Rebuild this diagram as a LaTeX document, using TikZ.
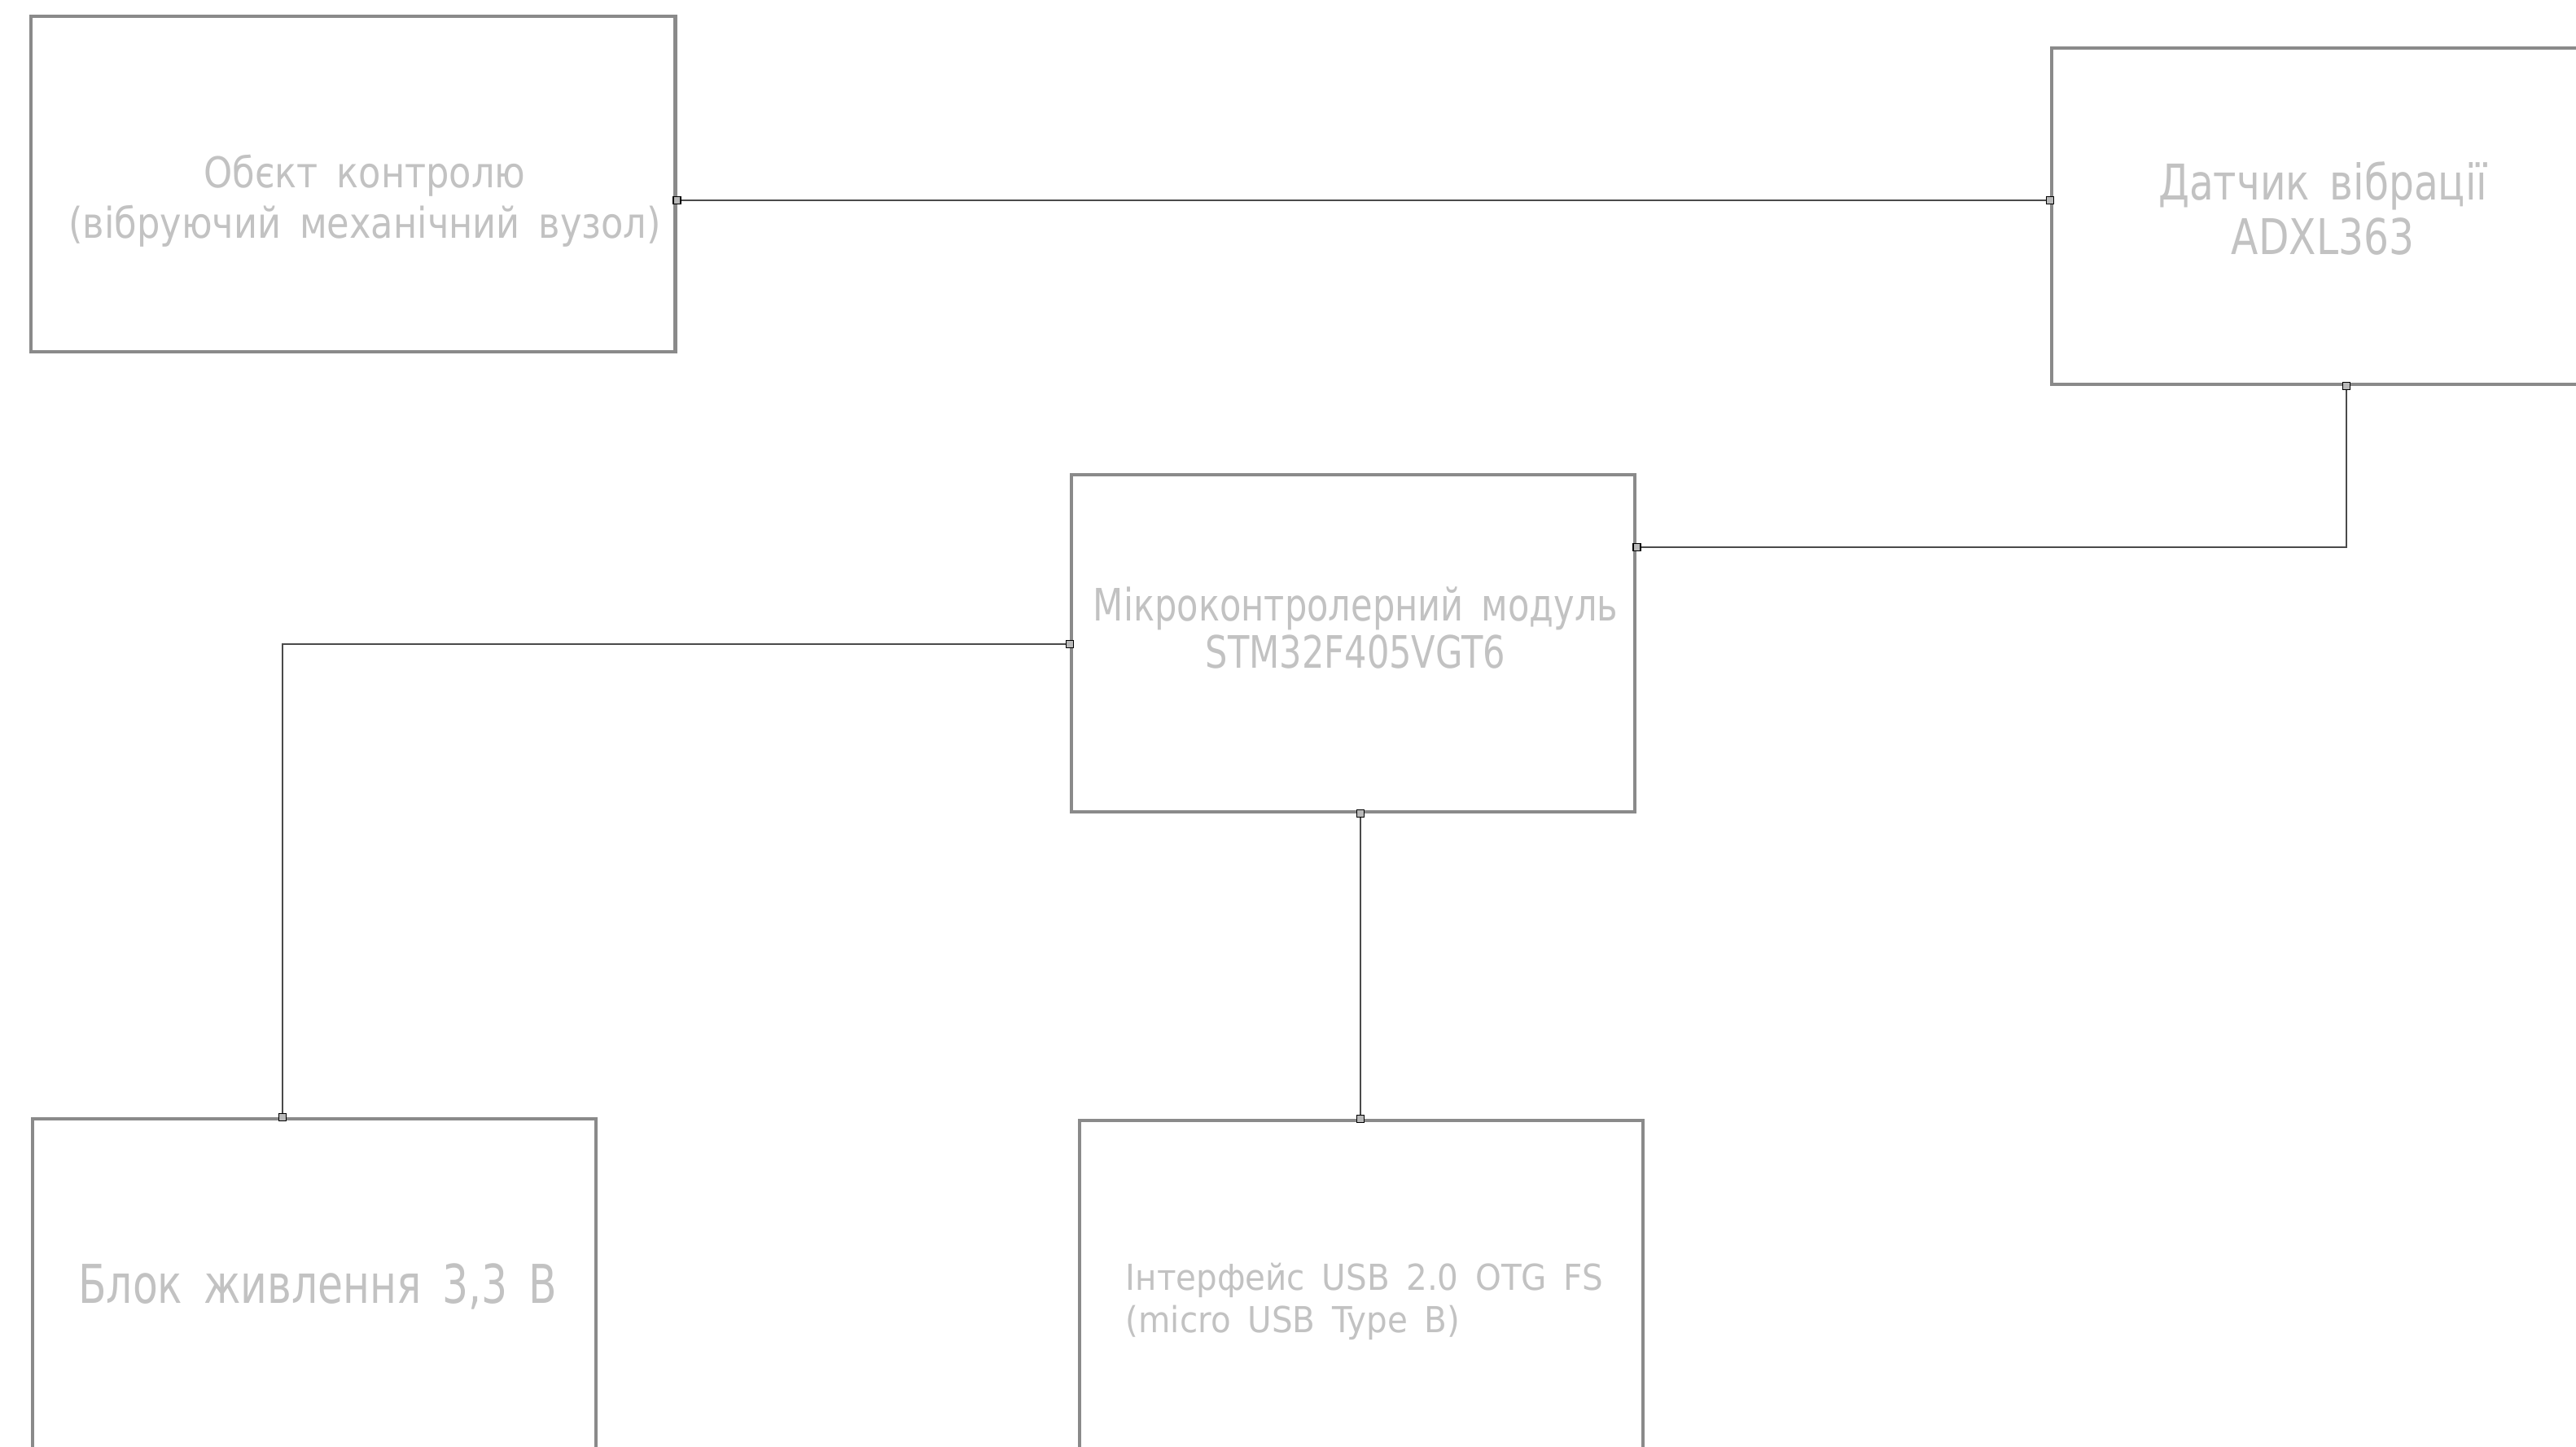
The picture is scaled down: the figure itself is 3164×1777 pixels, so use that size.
\documentclass[tikz,border=0pt]{standalone}
\usepackage{fontspec}
\newfontfamily\gostobj[FakeStretch=0.86,WordSpace=1.6]{DejaVu Sans}
\newfontfamily\gostsens[FakeStretch=0.805,WordSpace=1.6]{DejaVu Sans}
\newfontfamily\gostmcu[FakeStretch=0.787,WordSpace=1.6]{DejaVu Sans}
\newfontfamily\gostpwr[FakeStretch=0.767,WordSpace=1.6]{DejaVu Sans}
\newfontfamily\gostusb[FakeStretch=0.92,WordSpace=1.6]{DejaVu Sans}
\usetikzlibrary{calc}
\definecolor{boxgray}{HTML}{8A8A8A}
\definecolor{txtgray}{HTML}{C2C2C2}
\definecolor{wiregray}{HTML}{4A4A4A}
\begin{document}
\begin{tikzpicture}[x=0.01cm,y=-0.01cm,
  blk/.style={draw=boxgray,line width=1.15pt,inner sep=0pt,anchor=north west},
  lbl/.style={text=txtgray,inner sep=0pt,align=center},
  wire/.style={draw=wiregray,line width=0.6pt},
  term/.style={draw=black,fill=gray!55,line width=0.3pt,minimum size=0.09cm,inner sep=0pt}]
\useasboundingbox[fill=white] (0,0) rectangle (3164,1777);
\clip (0,0) rectangle (3164,1777);
% boxes
\node[blk,minimum width=7.91cm,minimum height=4.12cm] (obj) at (36,18) {};
\node[blk,minimum width=6.72cm,minimum height=4.13cm] (sens) at (2518,57) {};
\node[blk,minimum width=6.92cm,minimum height=4.14cm] (mcu) at (1314,581) {};
\node[blk,minimum width=6.92cm,minimum height=4.16cm] (pwr) at (38,1372) {};
\node[blk,minimum width=6.92cm,minimum height=4.14cm] (usb) at (1324,1374) {};
% labels
\node[lbl,font=\gostobj\fontsize{14.8}{17.6}\selectfont] (tobj) at (448,247) {Обєкт контролю\\(вібруючий механічний вузол)};
\node[lbl,font=\gostsens\fontsize{17.2}{19.1}\selectfont] (tsens) at (2853,256) {Датчик вібрації\\ADXL363};
\node[lbl,font=\gostmcu\fontsize{15.6}{16.5}\selectfont] (tmcu) at (1665,771) {Мікроконтролерний модуль\\STM32F405VGT6};
\node[lbl,font=\gostpwr\fontsize{18.7}{20}\selectfont] (tpwr) at (390,1580) {Блок живлення 3,3 В};
\node[lbl,align=left,anchor=west,font=\gostusb\fontsize{12.5}{14.8}\selectfont] (tusb) at (1382,1598) {Інтерфейс USB 2.0 OTG FS\\(micro USB Type B)};
% connection points
\coordinate (a1) at ($(obj.north east)+(0,228)$);
\coordinate (a2) at (a1 -| sens.west);
\coordinate (b1) at ($(sens.south west)+(364,0)$);
\coordinate (b2) at ($(mcu.north east)+(0,91)$);
\coordinate (c1) at ($(mcu.north west)+(0,210)$);
\coordinate (c2) at ($(pwr.north west)+(309,0)$);
\coordinate (d1) at ($(mcu.south west)+(357,0)$);
\coordinate (d2) at (d1 |- usb.north);
% connectors
\draw[wire] (a1) -- (a2);
\draw[wire] (b1) |- (b2);
\draw[wire] (c1) -| (c2);
\draw[wire] (d1) -- (d2);
% terminals
\foreach \p/\n in {a1/ta1,a2/ta2,b1/tb1,b2/tb2,c1/tc1,c2/tc2,d1/td1,d2/td2}
  \node[term] (\n) at (\p) {};
\end{tikzpicture}
\end{document}
